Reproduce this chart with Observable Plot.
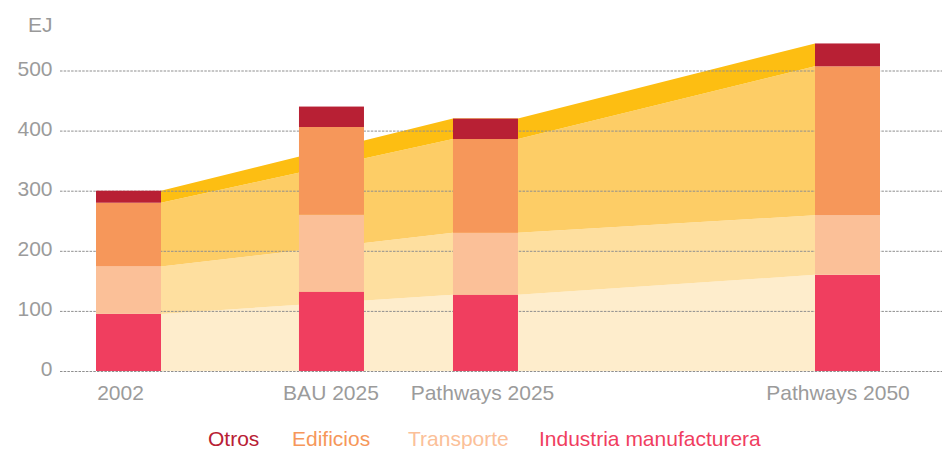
<!DOCTYPE html>
<html><head><meta charset="utf-8">
<script src="https://cdn.jsdelivr.net/npm/d3@7"></script>
<script src="https://cdn.jsdelivr.net/npm/@observablehq/plot@0.6"></script>
<style>
body{margin:0;background:#fff;font-family:"Liberation Sans",Arial,sans-serif;}
#wrap{position:relative;width:942px;height:449px;overflow:hidden;}
#ej{position:absolute;left:28px;top:14px;font-size:21px;line-height:21px;color:#999;}
#legend{position:absolute;left:0;top:428px;width:942px;height:24px;font-size:21px;line-height:21px;}
#legend span{position:absolute;white-space:nowrap;}
</style></head><body>
<div id="wrap"><div id="chart"></div><div id="ej">EJ</div><div id="legend"></div></div>
<script>
// ---- data (EJ) ----
const categories = ["2002", "BAU 2025", "Pathways 2025", "Pathways 2050"];
const sectors = ["Industria manufacturera", "Transporte", "Edificios", "Otros"];
const industria = [95, 132, 127, 160];
const transporte = [79, 128, 103, 99];
const edificios = [106, 146, 156, 248];
const otros = [20, 34, 34, 38];
const yTicks = [0, 100, 200, 300, 400, 500];
// categories joined by the background band (the Pathways trajectory)
const bandCategories = ["2002", "Pathways 2025", "Pathways 2050"];

// ---- layout / style ----
const xSlot = [0, 2.823, 4.965, 10];
const halfW = 0.452;
const labelDx = [-8.5, -1, -3.5, -10];
const barColor = {"Industria manufacturera": "#f03e5f", "Transporte": "#fbc098", "Edificios": "#f6975a", "Otros": "#b82034"};
const areaColor = {"Industria manufacturera": "#feedcc", "Transporte": "#fedf9f", "Edificios": "#fdcd66", "Otros": "#fdbe12"};
const gray = "#9b9b9b";

const series = [industria, transporte, edificios, otros];

// stacked rects
const rects = [];
categories.forEach((c, i) => {
  let acc = 0;
  sectors.forEach((s, k) => {
    const v = series[k][i];
    rects.push({cat: c, sector: s, x1: xSlot[i] - halfW, x2: xSlot[i] + halfW, y1: acc, y2: acc + v});
    acc += v;
  });
});

// band points: right edge of first, both edges of middle, left edge of last
const bandIdx = bandCategories.map(c => categories.indexOf(c));
const bandPts = [];
bandIdx.forEach((i, j) => {
  if (j > 0) bandPts.push({i, x: xSlot[i] - halfW});
  if (j < bandIdx.length - 1) bandPts.push({i, x: xSlot[i] + halfW});
});
const areas = [];
sectors.forEach((s, k) => {
  bandPts.forEach(p => {
    let lo = 0;
    for (let m = 0; m < k; m++) lo += series[m][p.i];
    areas.push({sector: s, x: p.x, y1: lo, y2: lo + series[k][p.i]});
  });
});

const xLabelMarks = categories.map((c, i) =>
  Plot.axisX([xSlot[i]], {tickSize: 0, tickPadding: 14, fontSize: 21, color: gray, label: null,
    dx: labelDx[i], tickFormat: () => c})
);

const chart = Plot.plot({
  width: 942,
  height: 410,
  marginLeft: 60,
  marginRight: 0,
  marginTop: 20,
  marginBottom: 39,
  style: {fontFamily: "'Liberation Sans', Arial, sans-serif", fontSize: "21px", background: "#fff"},
  x: {type: "linear", domain: [0, 10], range: [128.5, 847.5]},
  y: {type: "linear", domain: [0, 500], range: [371, 70.5]},
  color: {type: "identity"},
  marks: [
    Plot.area(areas, {x1: "x", y1: "y1", y2: "y2", z: "sector", fill: d => areaColor[d.sector], curve: "linear"}),
    Plot.gridY(yTicks, {stroke: "#8f8f8f", strokeOpacity: 1, strokeWidth: 1, strokeDasharray: "2.5,1.2"}),
    Plot.rect(rects, {x1: "x1", x2: "x2", y1: "y1", y2: "y2", fill: d => barColor[d.sector]}),
    Plot.axisY(yTicks, {tickSize: 0, tickPadding: 8, fontSize: 21, color: gray, dy: -2, label: null}),
    ...xLabelMarks
  ]
});
document.getElementById("chart").appendChild(chart);

// legend
const legendOrder = ["Otros", "Edificios", "Transporte", "Industria manufacturera"];
const legendLeft = [208, 292, 408, 539];
const leg = document.getElementById("legend");
legendOrder.forEach((s, i) => {
  const sp = document.createElement("span");
  sp.textContent = s;
  sp.style.color = barColor[s];
  sp.style.left = legendLeft[i] + "px";
  leg.appendChild(sp);
});
</script>
</body></html>
